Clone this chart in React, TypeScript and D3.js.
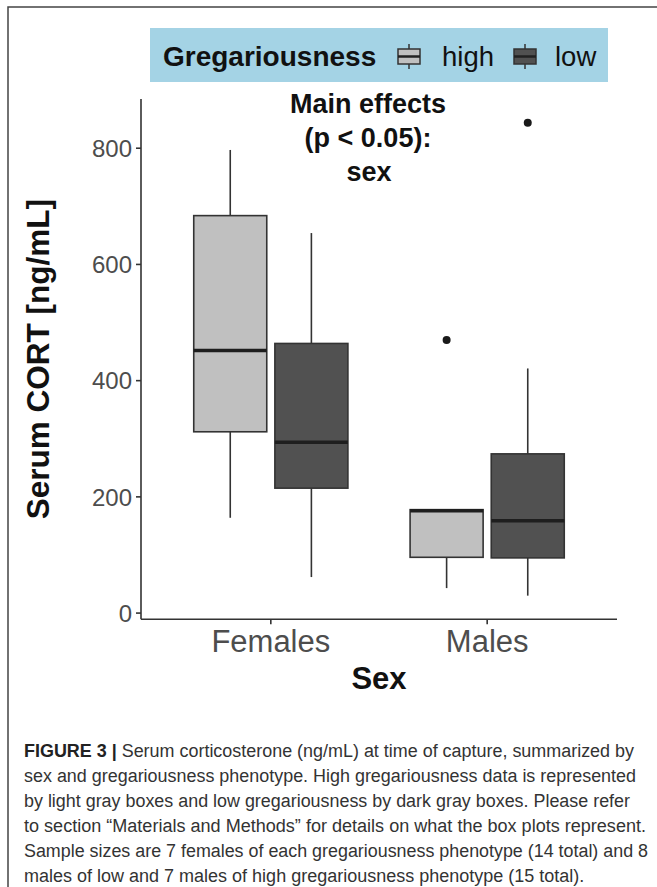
import React from "react";
import * as d3 from "d3";

// ---- data ----
const sexes = ["Females", "Males"];
const groups = ["high", "low"];
const groupFill = ["#c0c0c0", "#515151"];

const highWhiskerLow = [164, 43];
const highQ1 = [312, 96];
const highMedian = [452, 176];
const highQ3 = [684, 178];
const highWhiskerHigh = [797, 179];
const highOutliers = [[], [470]];

const lowWhiskerLow = [62, 30];
const lowQ1 = [215, 95];
const lowMedian = [294, 159];
const lowQ3 = [464, 274];
const lowWhiskerHigh = [654, 421];
const lowOutliers = [[], [844]];

const yTicks = [0, 200, 400, 600, 800];

const captionLines = [
  { bold: "FIGURE 3 | ", text: "Serum corticosterone (ng/mL) at time of capture, summarized by", end: 634 },
  { bold: "", text: "sex and gregariousness phenotype. High gregariousness data is represented", end: 636 },
  { bold: "", text: "by light gray boxes and low gregariousness by dark gray boxes. Please refer", end: 630 },
  { bold: "", text: "to section \u201CMaterials and Methods\u201D for details on what the box plots represent.", end: 646 },
  { bold: "", text: "Sample sizes are 7 females of each gregariousness phenotype (14 total) and 8", end: 648 },
  { bold: "", text: "males of low and 7 males of high gregariousness phenotype (15 total).", end: 0 },
];

const FONT = "'Liberation Sans', Arial, Helvetica, sans-serif";

export default function App() {
  const W = 657;
  const H = 887;
  const plot = { left: 141, right: 617, top: 99, bottom: 619.3 };

  const stats = [
    { wl: highWhiskerLow, q1: highQ1, med: highMedian, q3: highQ3, wh: highWhiskerHigh, out: highOutliers },
    { wl: lowWhiskerLow, q1: lowQ1, med: lowMedian, q3: lowQ3, wh: lowWhiskerHigh, out: lowOutliers },
  ];

  const allVals = [
    ...highWhiskerLow, ...highWhiskerHigh, ...lowWhiskerLow, ...lowWhiskerHigh,
    ...highOutliers.flat(), ...lowOutliers.flat(),
  ];
  const vmin = d3.min(allVals) as number;
  const vmax = d3.max(allVals) as number;
  const pad = (vmax - vmin) * 0.05;

  const y = d3.scaleLinear().domain([vmin - pad, vmax + pad]).range([plot.bottom, plot.top]);
  const x = d3.scaleLinear().domain([0.4, 2.6]).range([plot.left, plot.right]);
  const dodge = 0.1875;
  const halfW = (x(0.16875) - x(0));

  const boxes: any[] = [];
  sexes.forEach((s, i) => {
    groups.forEach((g, gi) => {
      const st = stats[gi];
      const cx = x(i + 1 + (gi === 0 ? -dodge : dodge));
      boxes.push({ key: s + g, cx, gi, wl: st.wl[i], q1: st.q1[i], med: st.med[i], q3: st.q3[i], wh: st.wh[i], out: st.out[i] });
    });
  });

  const axisCol = "#333333";
  const tickLabCol = "#4d4d4d";

  return (
    <svg width={W} height={H} style={{ position: "absolute", left: 0, top: 0, background: "#fff" }} fontFamily={FONT}>
      <rect x={0} y={0} width={W} height={H} fill="#fff" />
      {/* figure frame */}
      <path d={`M8,${H + 5} V7 H${W + 5}`} fill="none" stroke="#444" strokeWidth={1.5} />

      {/* legend */}
      <rect x={150} y={28} width={458} height={54} fill="#a4d3e5" />
      <text x={163} y={66} fontSize={28} fontWeight="bold" fill="#111">Gregariousness</text>
      {groups.map((g, gi) => {
        const ix = gi === 0 ? 398 : 514;
        const tx = gi === 0 ? 442 : 555;
        return (
          <g key={g}>
            <line x1={ix + 11} x2={ix + 11} y1={44} y2={69} stroke={axisCol} strokeWidth={1.5} />
            <rect x={ix} y={49} width={22} height={15} fill={groupFill[gi]} stroke={axisCol} strokeWidth={1.5} />
            <line x1={ix} x2={ix + 22} y1={56.5} y2={56.5} stroke="#222" strokeWidth={2.5} />
            <text x={tx} y={66} fontSize={27.5} fill="#111">{g}</text>
          </g>
        );
      })}

      {/* annotation */}
      <g fontSize={27} fontWeight="bold" fill="#111" textAnchor="middle">
        <text x={368} y={113}>Main effects</text>
        <text x={368} y={147}>(p &lt; 0.05):</text>
        <text x={369} y={181}>sex</text>
      </g>

      {/* boxes */}
      {boxes.map((b) => (
        <g key={b.key}>
          <line x1={b.cx} x2={b.cx} y1={y(b.wh)} y2={y(b.q3)} stroke={axisCol} strokeWidth={1.6} />
          <line x1={b.cx} x2={b.cx} y1={y(b.q1)} y2={y(b.wl)} stroke={axisCol} strokeWidth={1.6} />
          <rect x={b.cx - halfW} y={y(b.q3)} width={halfW * 2} height={y(b.q1) - y(b.q3)}
            fill={groupFill[b.gi]} stroke={axisCol} strokeWidth={1.6} />
          <line x1={b.cx - halfW} x2={b.cx + halfW} y1={y(b.med)} y2={y(b.med)} stroke="#1e1e1e" strokeWidth={3.4} />
          {b.out.map((o: number, k: number) => (
            <circle key={k} cx={b.cx} cy={y(o)} r={4} fill="#1a1a1a" />
          ))}
        </g>
      ))}

      {/* axes */}
      <line x1={plot.left} x2={plot.left} y1={plot.top} y2={plot.bottom} stroke={axisCol} strokeWidth={1.6} />
      <line x1={plot.left} x2={plot.right} y1={plot.bottom} y2={plot.bottom} stroke={axisCol} strokeWidth={1.6} />
      {yTicks.map((t) => (
        <g key={t}>
          <line x1={plot.left - 5} x2={plot.left} y1={y(t)} y2={y(t)} stroke={axisCol} strokeWidth={1.6} />
          <text x={plot.left - 9} y={y(t)} dy="0.36em" textAnchor="end" fontSize={24} fill={tickLabCol}>{t}</text>
        </g>
      ))}
      {sexes.map((s, i) => (
        <g key={s}>
          <line x1={x(i + 1)} x2={x(i + 1)} y1={plot.bottom} y2={plot.bottom + 5} stroke={axisCol} strokeWidth={1.6} />
          <text x={x(i + 1)} y={652} textAnchor="middle" fontSize={31} fill={tickLabCol}>{s}</text>
        </g>
      ))}
      <text x={(plot.left + plot.right) / 2} y={689} textAnchor="middle" fontSize={31} fontWeight="bold" fill="#111">Sex</text>
      <text transform={`translate(49,${(plot.top + plot.bottom) / 2}) rotate(-90)`} textAnchor="middle"
        fontSize={31.5} fontWeight="bold" fill="#111">Serum CORT [ng/mL]</text>

      {/* caption */}
      {captionLines.map((l, i) => (
        <text key={i} x={24} y={757 + i * 24.9} fontSize={18} fill="#333"
          {...(l.end ? { textLength: l.end - 24, lengthAdjust: "spacingAndGlyphs" } : {})}>
          {l.bold && <tspan fontWeight="bold" fill="#222">{l.bold}</tspan>}
          {l.text}
        </text>
      ))}
    </svg>
  );
}
